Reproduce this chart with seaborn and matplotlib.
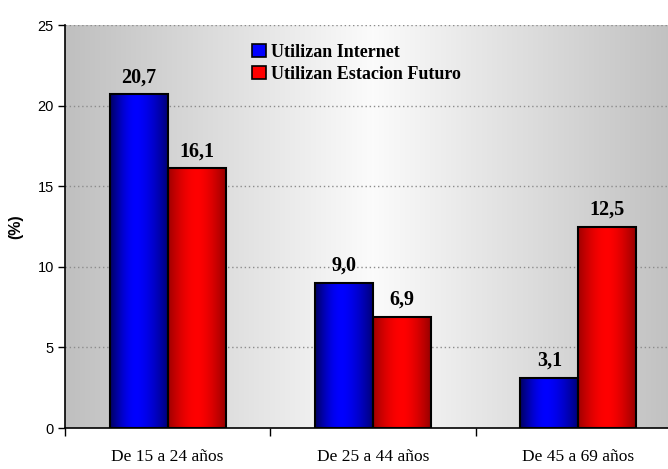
import numpy as np
import pandas as pd
import matplotlib
matplotlib.use("Agg")
import matplotlib.pyplot as plt
import seaborn as sns
from matplotlib.patches import Patch
from matplotlib.colors import to_rgb

categories = ["De 15 a 24 años", "De 25 a 44 años", "De 45 a 69 años"]
series = ["Utilizan Internet", "Utilizan Estacion Futuro"]
internet = [20.7, 9.0, 3.1]
estacion = [16.1, 6.9, 12.5]
value_labels_internet = ["20,7", "9,0", "3,1"]
value_labels_estacion = ["16,1", "6,9", "12,5"]
yticks = [0, 5, 10, 15, 20, 25]

df = pd.DataFrame({
    "cat": categories * 2,
    "serie": [series[0]] * 3 + [series[1]] * 3,
    "val": internet + estacion,
})

sns.set_style("white")
plt.rcParams['font.family'] = ['Liberation Sans', 'DejaVu Sans']
plt.rcParams['text.color'] = 'black'
plt.rcParams['axes.labelcolor'] = 'black'
plt.rcParams['xtick.color'] = 'black'
plt.rcParams['ytick.color'] = 'black'

fig = plt.figure(figsize=(6.68, 4.69), dpi=100)
W, H = 668, 469
ax = fig.add_axes([65 / W, 41 / H, 616 / W, 403 / H])

palette = {series[0]: "#0000ff", series[1]: "#ff0000"}
sns.barplot(data=df, x="cat", y="val", hue="serie", order=categories,
            hue_order=series, palette=palette, width=0.566, ax=ax,
            legend=False, saturation=1, edgecolor="black", linewidth=1.5,
            errorbar=None)

ax.set_xlim(-0.5, 2.5)
ax.set_ylim(0, 25)

# background gradient gray -> white -> gray
xs = np.linspace(0, 1, 400)
prof = 1 - np.abs(xs - 0.5) * 2
g0, g1 = 0.75, 0.985
bg = g0 + (g1 - g0) * prof
bgimg = np.dstack([bg, bg, bg])
ax.imshow(bgimg, extent=[-0.5, 2.5, 0, 25], aspect="auto", zorder=0,
          interpolation="bilinear")
ax.set_xlim(-0.5, 2.5)
ax.set_ylim(0, 25)

# gridlines
for yv in yticks[1:]:
    ax.axhline(yv, color="#8c8c8c", lw=1.0, ls=(0, (1, 2)), zorder=1)

# bar gradients
def grad(dark_l, bright, dark_r, n=200, peak=0.45):
    t = np.linspace(0, 1, n)
    dl, b, dr = np.array(to_rgb(dark_l)), np.array(to_rgb(bright)), np.array(to_rgb(dark_r))
    out = np.zeros((n, 3))
    for i, tt in enumerate(t):
        if tt < peak:
            f = tt / peak
            f = np.sin(f * np.pi / 2)
            out[i] = dl + (b - dl) * f
        else:
            f = (tt - peak) / (1 - peak)
            f = f ** 1.6
            out[i] = b + (dr - b) * f
    return out[None, :, :]

blue_grad = grad("#000060", "#0000ff", "#000070")
red_grad = grad("#a00000", "#ff0000", "#900000", peak=0.5)

for p in list(ax.patches):
    fc = p.get_facecolor()
    if fc[2] > 0.5:
        img = blue_grad
    else:
        img = red_grad
    x0, y0 = p.get_x(), p.get_y()
    w, h = p.get_width(), p.get_height()
    im = ax.imshow(img, extent=[x0, x0 + w, y0, y0 + h], aspect="auto",
                   zorder=2, interpolation="bilinear")
    im.set_clip_path(p)
    p.set_facecolor("none")
    p.set_zorder(3)
ax.set_xlim(-0.5, 2.5)
ax.set_ylim(0, 25)

# value labels
for cont, labs in zip(ax.containers, [value_labels_internet, value_labels_estacion]):
    ax.bar_label(cont, labels=labs, padding=5, fontsize=14.5, fontweight="bold",
                 family="Liberation Serif", color="black", zorder=5)

# axes styling
for s in ["right", "top"]:
    ax.spines[s].set_visible(False)
ax.spines["left"].set_color("black")
ax.spines["bottom"].set_color("black")
ax.spines["left"].set_linewidth(1.2)
ax.spines["bottom"].set_linewidth(1.2)
ax.spines["left"].set_zorder(6)
ax.spines["bottom"].set_zorder(6)

ax.set_yticks(yticks)
ax.set_yticklabels([str(v) for v in yticks], fontsize=10.5, color="black")
ax.tick_params(axis="y", direction="out", length=5, width=1, color="black", pad=3, left=True)

ax.set_xticks([-0.5, 0.5, 1.5])
ax.set_xticklabels([])
ax.tick_params(axis="x", which="major", direction="out", length=6, width=1, color="black", bottom=True)
ax.set_xticks([0, 1, 2], minor=True)
ax.set_xticklabels(categories, minor=True, fontsize=12.5, family="Liberation Serif", color="black")
ax.tick_params(axis="x", which="minor", length=0, pad=15)
ax.set_xlabel("")
ax.set_ylabel("(%)", fontsize=11.5, fontweight="bold", labelpad=10, color="black")

handles = [Patch(facecolor="#0000ff", edgecolor="black", linewidth=1.2),
           Patch(facecolor="#ff0000", edgecolor="black", linewidth=1.2)]
leg = fig.legend(handles, series, loc="upper left",
                 bbox_to_anchor=(252 / W, 1 - 44 / H), frameon=False,
                 prop={"family": "Liberation Serif", "weight": "bold", "size": 13},
                 handlelength=0.75, handleheight=0.75, handletextpad=0.3,
                 labelspacing=0.25, borderaxespad=0, borderpad=0)
for t in leg.get_texts():
    t.set_color("black")

fig.savefig("out.png", dpi=100)
